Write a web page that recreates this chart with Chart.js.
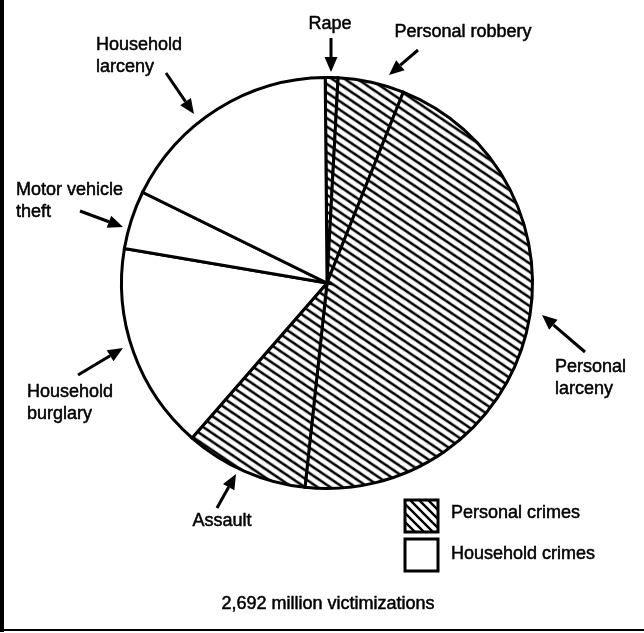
<!DOCTYPE html>
<html>
<head>
<meta charset="utf-8">
<script src="https://cdn.jsdelivr.net/npm/chart.js@4.4.1/dist/chart.umd.min.js"></script>
<style>
html,body{margin:0;padding:0;background:#fff;}
canvas{display:block;}
</style>
</head>
<body>
<canvas id="c" width="644" height="633"></canvas>
<script>
// Data (percent of victimizations, read clockwise from top)
const categories = ["Rape", "Personal robbery", "Personal larceny", "Assault", "Household burglary", "Motor vehicle theft", "Household larceny"];
const shares = [1.0, 5.2, 45.7, 9.7, 16.3, 4.6, 17.6];
const groups = ["Personal", "Personal", "Personal", "Personal", "Household", "Household", "Household"];
const legendLabels = ["Personal crimes", "Household crimes"];
const caption = "2,692 million victimizations";

function makeHatch(size, lw, angle) {
  const t = document.createElement('canvas');
  t.width = size; t.height = size;
  const g = t.getContext('2d');
  g.fillStyle = '#fff'; g.fillRect(0, 0, size, size);
  g.strokeStyle = '#000'; g.lineWidth = lw;
  g.beginPath();
  for (let k = -1; k <= 1; k++) {
    g.moveTo(k * size - 2, -2);
    g.lineTo(k * size + size + 2, size + 2);
  }
  g.stroke();
  const p = document.getElementById('c').getContext('2d').createPattern(t, 'repeat');
  if (angle && p.setTransform) p.setTransform(new DOMMatrix().rotate(angle));
  return p;
}
const hatch = makeHatch(10, 2.6, -11);
const hatchLegend = makeHatch(9, 2.4, 0);
const fills = groups.map(g => g === "Personal" ? hatch : '#ffffff');

const FONT = '18px "Liberation Sans", Arial, sans-serif';

// annotations: label lines, text anchor, arrow tail -> tip
const notes = [
  {lines: ["Rape"], x: 330, y: 24, align: 'center', arrow: [331, 38, 331, 72]},
  {lines: ["Personal robbery"], x: 463, y: 32, align: 'center', arrow: [418, 50, 389, 75]},
  {lines: ["Household", "larceny"], x: 96, y: 45, align: 'left', arrow: [166, 73, 194, 114]},
  {lines: ["Motor vehicle", "theft"], x: 16, y: 190, align: 'left', arrow: [80, 211, 123, 227]},
  {lines: ["Household", "burglary"], x: 27, y: 392, align: 'left', arrow: [78, 375, 123, 348]},
  {lines: ["Personal", "larceny"], x: 555, y: 367, align: 'left', arrow: [585, 352, 542, 315]},
  {lines: ["Assault"], x: 222, y: 521, align: 'center', arrow: [217, 508, 236, 474]}
];

function arrow(ctx, x1, y1, x2, y2) {
  const a = Math.atan2(y2 - y1, x2 - x1);
  const hl = 15, hw = 6.5;
  const bx = x2 - hl * Math.cos(a), by = y2 - hl * Math.sin(a);
  ctx.save();
  ctx.strokeStyle = '#000'; ctx.fillStyle = '#000'; ctx.lineWidth = 3;
  ctx.beginPath(); ctx.moveTo(x1, y1); ctx.lineTo(bx, by); ctx.stroke();
  ctx.beginPath();
  ctx.moveTo(x2, y2);
  ctx.lineTo(bx - hw * Math.sin(a), by + hw * Math.cos(a));
  ctx.lineTo(bx + hw * Math.sin(a), by - hw * Math.cos(a));
  ctx.closePath(); ctx.fill();
  ctx.restore();
}

function heavyText(ctx, s, x, y) {
  ctx.fillText(s, x, y);
  ctx.strokeText(s, x, y);
}

const annot = {
  id: 'annot',
  beforeDraw(chart) {
    const ctx = chart.ctx;
    ctx.save();
    ctx.fillStyle = '#fff'; ctx.fillRect(0, 0, chart.width, chart.height);
    ctx.restore();
  },
  afterDraw(chart) {
    const ctx = chart.ctx;
    ctx.save();
    ctx.font = FONT; ctx.fillStyle = '#000'; ctx.strokeStyle = '#000';
    ctx.lineWidth = 0.5; ctx.textBaseline = 'middle';
    notes.forEach(n => {
      ctx.textAlign = n.align;
      ctx.lineWidth = 0.5;
      n.lines.forEach((l, i) => heavyText(ctx, l, n.x, n.y + i * 22));
      arrow(ctx, ...n.arrow);
    });
    // legend
    const sw = [[405, 500], [405, 539]];
    [hatchLegend, '#fff'].forEach((f, i) => {
      ctx.fillStyle = f; ctx.fillRect(sw[i][0], sw[i][1], 33, 32);
      ctx.strokeStyle = '#000'; ctx.lineWidth = 3;
      ctx.strokeRect(sw[i][0], sw[i][1], 33, 32);
    });
    ctx.fillStyle = '#000'; ctx.lineWidth = 0.5;
    ctx.textAlign = 'left';
    heavyText(ctx, legendLabels[0], 451, 513);
    heavyText(ctx, legendLabels[1], 451, 554);
    ctx.textAlign = 'center';
    heavyText(ctx, caption, 328, 604);
    // frame
    ctx.lineWidth = 4;
    ctx.beginPath(); ctx.moveTo(2, 0); ctx.lineTo(2, 632); ctx.stroke();
    ctx.lineWidth = 2;
    ctx.beginPath(); ctx.moveTo(0, 630); ctx.lineTo(644, 630); ctx.stroke();
    ctx.restore();
  }
};

new Chart(document.getElementById('c'), {
  type: 'pie',
  data: {
    labels: categories,
    datasets: [{
      data: shares,
      backgroundColor: fills,
      borderColor: '#000',
      borderWidth: 3,
      borderJoinStyle: 'miter'
    }]
  },
  options: {
    responsive: false,
    animation: false,
    rotation: -0.5,
    layout: {padding: {left: 120, right: 110, top: 76, bottom: 143}},
    plugins: {legend: {display: false}, tooltip: {enabled: false}}
  },
  plugins: [annot]
});
</script>
</body>
</html>
